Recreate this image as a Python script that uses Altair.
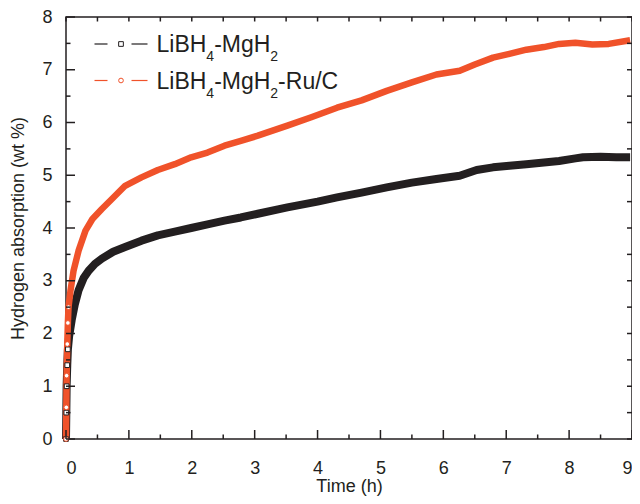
import altair as alt
import pandas as pd

# ---- data ----
time_plain = [0, 0.005, 0.01, 0.02, 0.03, 0.05, 0.09, 0.14, 0.2, 0.28, 0.36, 0.46, 0.57, 0.75, 0.94,
              1.2, 1.46, 1.73, 1.99, 2.25, 2.52, 2.78, 3.05, 3.52, 4.0, 4.31, 4.7, 5.1, 5.5, 5.89,
              6.26, 6.53, 6.79, 7.05, 7.32, 7.6, 7.84, 8.1, 8.22, 8.5, 8.75, 8.97]
abs_plain = [0, 0.5, 1.0, 1.4, 1.7, 1.95, 2.25, 2.55, 2.82, 3.05, 3.19, 3.32, 3.42, 3.55, 3.64,
             3.76, 3.86, 3.93, 4.0, 4.07, 4.14, 4.2, 4.27, 4.39, 4.5, 4.58, 4.67, 4.77, 4.86, 4.93,
             4.99, 5.1, 5.15, 5.18, 5.21, 5.24, 5.27, 5.32, 5.34, 5.35, 5.34, 5.34]

time_ru = [0, 0.005, 0.01, 0.02, 0.03, 0.04, 0.07, 0.12, 0.2, 0.31, 0.42, 0.57, 0.73, 0.94,
           1.2, 1.46, 1.73, 1.99, 2.25, 2.52, 2.78, 3.05, 3.52, 3.9, 4.31, 4.7, 5.1, 5.5, 5.89,
           6.26, 6.5, 6.79, 7.05, 7.32, 7.6, 7.84, 8.1, 8.37, 8.63, 8.97]
abs_ru = [0, 0.6, 1.2, 1.8, 2.2, 2.5, 2.8, 3.19, 3.57, 3.95, 4.17, 4.36, 4.55, 4.8,
          4.96, 5.1, 5.21, 5.34, 5.43, 5.56, 5.65, 5.75, 5.94, 6.1, 6.28, 6.42, 6.6, 6.76, 6.91,
          6.98, 7.1, 7.23, 7.3, 7.38, 7.43, 7.49, 7.51, 7.48, 7.49, 7.56]

x_major = [0, 1, 2, 3, 4, 5, 6, 7, 8, 9]
x_minor = [0.5, 1.5, 2.5, 3.5, 4.5, 5.5, 6.5, 7.5, 8.5]
y_major = [0, 1, 2, 3, 4, 5, 6, 7, 8]
y_minor = [0.5, 1.5, 2.5, 3.5, 4.5, 5.5, 6.5, 7.5]

BLACK = "#231F20"
ORANGE = "#F0522A"
FONT = "Liberation Sans"
W, H = 566, 422

df_plain = pd.DataFrame({"t": time_plain, "v": abs_plain})
df_ru = pd.DataFrame({"t": time_ru, "v": abs_ru})

xs = alt.Scale(domain=[0, 9], nice=False, zero=False)
ys = alt.Scale(domain=[0, 8], nice=False, zero=False)
xaxis = alt.Axis(title="Time (h)", values=x_major, ticks=False, domain=False, grid=False,
                 labelPadding=20, titlePadding=0, format="d",
                 labelFont=FONT, titleFont=FONT, labelFontSize=18, titleFontSize=18,
                 labelColor=BLACK, titleColor=BLACK, titleFontWeight="normal")
yaxis = alt.Axis(title="Hydrogen absorption (wt %)", values=y_major, ticks=False, domain=False,
                 grid=False, labelPadding=14, titlePadding=14, format="d",
                 labelFont=FONT, titleFont=FONT, labelFontSize=18, titleFontSize=18,
                 labelColor=BLACK, titleColor=BLACK, titleFontWeight="normal")


def X(field):
    return alt.X(field, type="quantitative", scale=xs, axis=xaxis)


def Y(field):
    return alt.Y(field, type="quantitative", scale=ys, axis=yaxis)


layers = []

# series bands (dense markers look like a thick band)
layers.append(alt.Chart(df_plain).mark_line(color=BLACK, strokeWidth=8, strokeJoin="round")
              .encode(x=X("t"), y=Y("v")))
layers.append(alt.Chart(df_ru).mark_line(color=ORANGE, strokeWidth=6.5, strokeJoin="round")
              .encode(x=X("t"), y=Y("v")))
# early hollow markers
layers.append(alt.Chart(df_plain).transform_filter("datum.t <= 0.03")
              .mark_point(shape="square", size=22, color=BLACK, fill="white", filled=True,
                          stroke=BLACK, strokeWidth=1, opacity=1)
              .encode(x=X("t"), y=Y("v")))
layers.append(alt.Chart(df_ru).transform_filter("datum.t <= 0.04")
              .mark_point(shape="circle", size=22, color=ORANGE, fill="white", filled=True,
                          stroke=ORANGE, strokeWidth=1, opacity=1)
              .encode(x=X("t"), y=Y("v")))

# inward ticks on all four sides
def xticks(vals, length, side):
    d = pd.DataFrame({"p": vals})
    if side == "bottom":
        y1, y2 = H, H - length
    else:
        y1, y2 = 0, length
    return alt.Chart(d).mark_rule(color=BLACK, strokeWidth=1.5).encode(
        x=X("p"), y=alt.value(y1), y2=alt.value(y2))


def yticks(vals, length, side):
    d = pd.DataFrame({"p": vals})
    if side == "left":
        x1, x2 = 0, length
    else:
        x1, x2 = W, W - length
    return alt.Chart(d).mark_rule(color=BLACK, strokeWidth=1.5).encode(
        y=Y("p"), x=alt.value(x1), x2=alt.value(x2))


layers += [xticks(x_major, 9, "bottom"), xticks(x_minor, 4.5, "bottom"),
           xticks(x_major, 4.5, "top"), xticks(x_minor, 4.5, "top"),
           yticks(y_major, 9, "left"), yticks(y_minor, 4.5, "left"),
           yticks(y_major, 5, "right"), yticks(y_minor, 5, "right")]

# ---- manual legend (with subscripts) ----
char_w = {"L": 0.556, "i": 0.222, "B": 0.667, "H": 0.722, "-": 0.333, "M": 0.833, "g": 0.556,
          "R": 0.722, "u": 0.556, "/": 0.278, "C": 0.722, "4": 0.556, "2": 0.556}
legend_rows = [
    {"color": BLACK, "shape": "square", "cy": 27, "parts": [("LiBH", 0), ("4", 1), ("-MgH", 0), ("2", 1)]},
    {"color": ORANGE, "shape": "circle", "cy": 63.5,
     "parts": [("LiBH", 0), ("4", 1), ("-MgH", 0), ("2", 1), ("-Ru/C", 0)]},
]
BIG, SMALL = 23, 14
anchor = alt.Chart(pd.DataFrame({"a": [0]}))
for row in legend_rows:
    cy = row["cy"]
    for xa, xb in [(28.5, 41.5), (65.5, 81.5)]:
        layers.append(anchor.mark_rule(color=row["color"], strokeWidth=1.2).encode(
            x=alt.value(xa), x2=alt.value(xb), y=alt.value(cy)))
    layers.append(anchor.mark_point(shape=row["shape"], size=22, filled=False, color=row["color"],
                                    strokeWidth=1, opacity=1).encode(
        x=alt.value(55), y=alt.value(cy)))
    px = 90.5
    for txt, sub in row["parts"]:
        fs = SMALL if sub else BIG
        base = cy + 8.3 + (9 if sub else 0)
        layers.append(anchor.mark_text(text=txt, font=FONT, fontSize=fs, color=BLACK, align="left",
                                       baseline="alphabetic").encode(
            x=alt.value(px), y=alt.value(base)))
        px += sum(char_w[c] for c in txt) * fs

chart = alt.layer(*layers).properties(
    width=W, height=H,
    background="white",
    autosize=alt.AutoSizeParams(type="none"),
    padding={"left": 58, "top": 9, "right": 0, "bottom": 57},
).configure_view(stroke=BLACK, strokeWidth=1.5)

chart.save("out.html", embed_options={"renderer": "svg", "actions": False})
